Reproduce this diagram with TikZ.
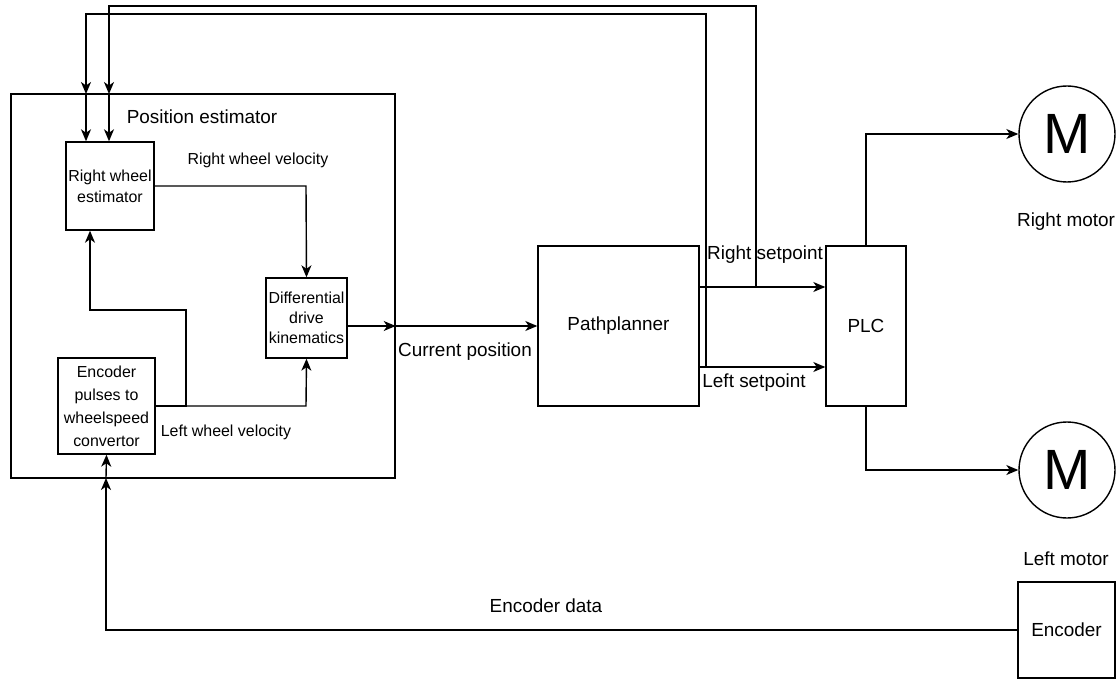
\documentclass[tikz,border=0pt]{standalone}
\usepackage{fontspec}
\setmainfont{Liberation Sans}
\usetikzlibrary{arrows.meta}
\newcommand\fsz[2]{\fontsize{#1}{#2}\selectfont}
\begin{document}
\begin{tikzpicture}[x=1bp,y=-1bp,
  line width=1.4bp,
  arr/.style={-{Stealth[length=12bp,width=10bp,inset=3.5bp]}},
  blk/.style={draw, rectangle, inner sep=0pt, align=center},
  big/.style={font=\fsz{19}{23}},
  small/.style={font=\fsz{16}{20}},
  lbl/.style={inner sep=0pt, anchor=center},
  motor/.style={draw, circle, inner sep=0pt, minimum size=96bp, font=\fsz{57}{57}}]
\useasboundingbox (0,0) rectangle (1118,679);

% blocks
\node[blk, minimum width=384bp, minimum height=384bp] (pe) at (203,286) {};
\node[lbl, big] (pelbl) at (202,117) {Position estimator};
\node[blk, small, font=\fsz{16}{21}, minimum width=88bp, minimum height=88bp] (rwe) at (110,186) {Right wheel\\estimator};
\node[blk, small, font=\fsz{16}{23}, minimum width=97bp, minimum height=96bp] (epc) at (106.5,406) {Encoder\\pulses to\\wheelspeed\\convertor};
\node[blk, small, font=\fsz{16}{20}, minimum width=81bp, minimum height=80bp] (ddk) at (306.5,318) {Differential\\drive\\kinematics};
\node[blk, big, minimum width=161bp, minimum height=160bp] (pp) at (618.5,326) {Pathplanner};
\node[blk, big, minimum width=80bp, minimum height=160bp] (plc) at (866,326) {PLC};
\node[motor] (mr) at (1067,134) {M};
\node[motor] (ml) at (1067,470) {M};
\node[blk, big, minimum width=97bp, minimum height=96bp] (enc) at (1066.5,630) {Encoder};

% labels
\node[lbl, small] (lrwv) at (258,160) {Right wheel velocity};
\node[lbl, small] (llwv) at (226,432) {Left wheel velocity};
\node[lbl, big] (lcp) at (465,352) {Current position};
\node[lbl, big] (lrs) at (765,255) {Right setpoint};
\node[lbl, big] (lls) at (754,383) {Left setpoint};
\node[lbl, big] (lrm) at (1066,222) {Right motor};
\node[lbl, big] (llm) at (1066,559) {Left motor};
\node[lbl, big] (led) at (546,606) {Encoder data};

% junction points
\coordinate (peR) at (pe.east |- 0,326);
\coordinate (inA) at (86,94);
\coordinate (inB) at (109,94);
\coordinate (peB) at (106,478);
\coordinate (rsJ) at (756,287);
\coordinate (lsJ) at (706,367);

% inner connectors
\draw[arr] (rwe.east) -- (306,186) -- (ddk.north);
\draw[arr] (epc.east |- 0,406) -- (306,406) -- (ddk.south);
\draw[arr] (epc.east |- 0,406) -- (186,406) -- (186,310) -- (90,310) -- (rwe.south -| 90,0);
\draw[arr] (ddk.east |- 0,326) -- (peR);
\draw[arr] (peR) -- (pp.west);

% setpoints to PLC
\draw[arr] (pp.east |- 0,287) -- (plc.west |- 0,287);
\draw[arr] (pp.east |- 0,367) -- (plc.west |- 0,367);

% feedback of setpoints to the right wheel estimator
\draw[arr] (lsJ) -- (706,14) -- (86,14) -- (inA);
\draw[arr] (inA) -- (rwe.north -| inA);
\draw[arr] (rsJ) -- (756,6) -- (109,6) -- (inB);
\draw[arr] (inB) -- (rwe.north -| inB);

% PLC to motors
\draw[arr] (plc.north) -- (866,134) -- (mr.west);
\draw[arr] (plc.south) -- (866,470) -- (ml.west);

% encoder data
\draw[arr] (enc.west) -- (106,630) -- (peB);
\draw[arr] (peB) -- (epc.south);
\end{tikzpicture}
\end{document}
